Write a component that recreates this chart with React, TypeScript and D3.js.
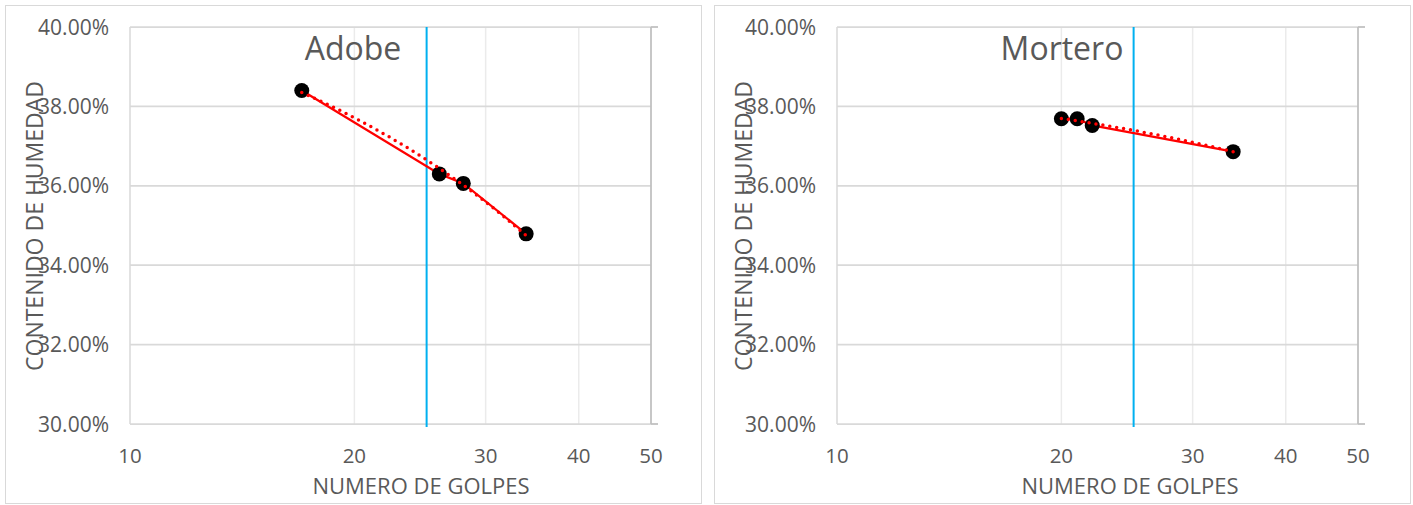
import React from "react";
import * as d3 from "d3";

const adobeGolpes = [17, 26, 28, 34];
const adobeHumedad = [0.384, 0.363, 0.3606, 0.3479];
const morteroGolpes = [20, 21, 22, 34];
const morteroHumedad = [0.3769, 0.3769, 0.3752, 0.3686];
const xTicks = [10, 20, 30, 40, 50];
const yTicks = [0.3, 0.32, 0.34, 0.36, 0.38, 0.4];
const referenceGolpes = 25;
const xTitle = "NUMERO DE GOLPES";
const yTitle = "CONTENIDO DE HUMEDAD";

const FONT = "'Open Sans', 'Noto Sans', sans-serif";
const TEXT = "#595959";

type PanelProps = {
  title: string;
  golpes: number[];
  humedad: number[];
  left: number;
  plotLeft: number;
  plotRight: number;
};

function Panel({ title, golpes, humedad, left, plotLeft, plotRight }: PanelProps) {
  const top = 27;
  const bottom = 424;
  const x = d3.scaleLog().domain([10, 50]).range([plotLeft, plotRight]);
  const y = d3.scaleLinear().domain([0.3, 0.4]).range([bottom, top]);
  const pts = golpes.map((g, i) => [g, humedad[i]] as [number, number]);

  // linear trendline (least squares on raw x)
  const mx = d3.mean(golpes)!;
  const my = d3.mean(humedad)!;
  const sxy = d3.sum(pts, (p) => (p[0] - mx) * (p[1] - my));
  const sxx = d3.sum(golpes, (g) => (g - mx) * (g - mx));
  const b = sxy / sxx;
  const a = my - b * mx;
  const [x0, x1] = d3.extent(golpes) as [number, number];
  const trendX = d3.range(0, 41).map((i) => x0 + ((x1 - x0) * i) / 40);
  const trend = trendX.map((g) => [g, a + b * g] as [number, number]);

  const line = d3
    .line<[number, number]>()
    .x((d) => x(d[0]))
    .y((d) => y(d[1]));

  const panelW = 696;
  const cx = left + panelW / 2;

  return (
    <g>
      <rect x={left + 0.5} y={5.5} width={panelW} height={498} fill="#fff" stroke="#d9d9d9" strokeWidth={1} />
      {/* vertical gridlines */}
      {xTicks.slice(1, -1).map((t) => (
        <line key={"vx" + t} x1={x(t)} x2={x(t)} y1={top} y2={bottom} stroke="#ebebeb" strokeWidth={1.5} />
      ))}
      <line x1={x(10)} x2={x(10)} y1={top} y2={bottom} stroke="#d9d9d9" strokeWidth={1.5} />
      {/* horizontal gridlines */}
      {yTicks.map((t) => (
        <line key={"hy" + t} x1={plotLeft} x2={plotRight} y1={y(t)} y2={y(t)} stroke="#d9d9d9" strokeWidth={1.75} />
      ))}
      {/* right axis line with end ticks */}
      <line x1={plotRight} x2={plotRight} y1={top} y2={bottom} stroke="#bfbfbf" strokeWidth={1.75} />
      <line x1={plotRight} x2={plotRight + 7} y1={top} y2={top} stroke="#bfbfbf" strokeWidth={1.75} />
      <line x1={plotRight} x2={plotRight + 7} y1={bottom} y2={bottom} stroke="#bfbfbf" strokeWidth={1.75} />
      {/* reference line */}
      <line
        x1={x(referenceGolpes)}
        x2={x(referenceGolpes)}
        y1={top}
        y2={bottom + 3}
        stroke="#00B0F0"
        strokeWidth={2}
      />
      {/* y tick labels */}
      {yTicks.map((t) => (
        <text
          key={"yl" + t}
          x={plotLeft - 21}
          y={y(t)}
          dy="0.36em"
          textAnchor="end"
          fontFamily={FONT}
          fontSize={21}
          fill={TEXT}
        >
          {d3.format(".2%")(t)}
        </text>
      ))}
      {/* x tick labels */}
      {xTicks.map((t) => (
        <text key={"xl" + t} x={x(t)} y={463} textAnchor="middle" fontFamily={FONT} fontSize={20.5} fill={TEXT}>
          {t}
        </text>
      ))}
      {/* axis titles */}
      <text x={left + 416} y={494} textAnchor="middle" fontFamily={FONT} fontSize={22} fill={TEXT}>
        {xTitle}
      </text>
      <text
        transform={`translate(${left + 30},226) rotate(-90)`}
        textAnchor="middle"
        dy="0.36em"
        fontFamily={FONT}
        fontSize={23}
        fill={TEXT}
      >
        {yTitle}
      </text>
      {/* chart title */}
      <text x={cx} y={60} textAnchor="middle" fontFamily={FONT} fontSize={32} fill={TEXT}>
        {title}
      </text>
      {/* data line */}
      <path d={line(pts) || ""} fill="none" stroke="#FF0000" strokeWidth={2.25} />
      {/* markers */}
      {pts.map((p, i) => (
        <circle key={"m" + i} cx={x(p[0])} cy={y(p[1])} r={7.5} fill="#000" />
      ))}
      {/* trendline */}
      <path
        d={line(trend) || ""}
        fill="none"
        stroke="#FF0000"
        strokeWidth={3.5}
        strokeDasharray="0 7"
        strokeLinecap="round"
      />
    </g>
  );
}

export default function App() {
  return (
    <svg
      width={1413}
      height={505}
      style={{ position: "absolute", left: 0, top: 0, background: "#fff" }}
    >
      <Panel title="Adobe" golpes={adobeGolpes} humedad={adobeHumedad} left={5} plotLeft={130} plotRight={651} />
      <Panel
        title="Mortero"
        golpes={morteroGolpes}
        humedad={morteroHumedad}
        left={714}
        plotLeft={837}
        plotRight={1358}
      />
    </svg>
  );
}
